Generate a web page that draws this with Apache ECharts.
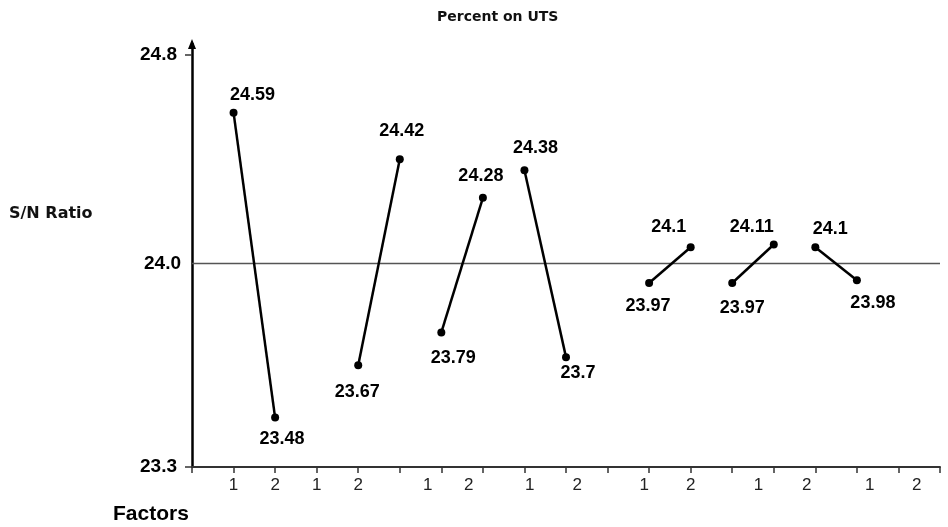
<!DOCTYPE html>
<html>
<head>
<meta charset="utf-8">
<script src="https://cdn.jsdelivr.net/npm/echarts@6/dist/echarts.min.js"></script>
<style>
  html, body { margin: 0; padding: 0; background: #fff; }
  #chart { width: 948px; height: 527px; }
</style>
</head>
<body>
<div id="chart"></div>
<script>
// S/N ratio of each factor at level 1 and level 2
const level1SN = [24.59, 23.67, 23.79, 24.38, 23.97, 23.97, 24.1];
const level2SN = [23.48, 24.42, 24.28, 23.7, 24.1, 24.11, 23.98];
// where the two levels of each factor sit along the x axis
const level1X = [1, 4, 6, 8, 11, 13, 15];
const level2X = [2, 5, 7, 9, 12, 14, 16];
// level labels printed under the x axis, and their axis positions
const levelTickLabels = ['1', '2', '1', '2', '1', '2', '1', '2', '1', '2', '1', '2', '1', '2'];
const levelTickPos = [1, 2, 3, 4, 5.67, 6.66, 8.13, 9.27, 10.88, 12, 13.63, 14.79, 16.31, 17.44];
// labelled values on the y axis
const yTickValues = [23.3, 24.8];

// nudges for the value labels, [level 1, level 2] per factor
const labelOffsets = [
  [[19, -18], [7, 21]],
  [[-1, 27], [2, -28]],
  [[12, 26], [-2, -22]],
  [[11, -22], [12, 16]],
  [[-1, 23], [-22, -20]],
  [[10, 25], [-22, -17]],
  [[15, -18], [16, 23]]
];

// overall mean of all S/N values, drawn as the reference line
const allSN = level1SN.concat(level2SN);
const meanSN = allSN.reduce((a, b) => a + b, 0) / allSN.length;

const ARIAL = '"Liberation Sans", Arial, sans-serif';
const VERDANA = '"DejaVu Sans", Verdana, sans-serif';

const chart = echarts.init(document.getElementById('chart'), null, { renderer: 'canvas' });

const series = level1SN.map((v1, i) => ({
  type: 'line',
  data: [
    { value: [level1X[i], v1], label: { offset: labelOffsets[i][0] } },
    { value: [level2X[i], level2SN[i]], label: { offset: labelOffsets[i][1] } }
  ],
  symbol: 'circle',
  symbolSize: 8,
  itemStyle: { color: '#000' },
  lineStyle: { color: '#000', width: 2.5 },
  label: {
    show: true,
    position: 'inside',
    align: 'center',
    verticalAlign: 'middle',
    formatter: p => String(p.value[1]),
    fontFamily: ARIAL,
    fontSize: 18,
    fontWeight: 'bold',
    color: '#000'
  },
  emphasis: { disabled: true },
  silent: true,
  z: 3
}));

series[0].markLine = {
  silent: true,
  symbol: 'none',
  data: [{ yAxis: meanSN }],
  lineStyle: { color: '#555', width: 1.3, type: 'solid' },
  label: {
    position: 'start',
    distance: 11,
    formatter: () => meanSN.toFixed(1),
    fontFamily: ARIAL,
    fontSize: 19,
    fontWeight: 'bold',
    color: '#000'
  },
  emphasis: { disabled: true },
  z: 1
};

function levelLabel(v) {
  for (let k = 0; k < levelTickPos.length; k++) {
    if (Math.abs(levelTickPos[k] - v) < 1e-6) return levelTickLabels[k];
  }
  return '';
}

chart.setOption({
  animation: false,
  backgroundColor: '#fff',
  grid: { left: 192, right: 8, top: 44, bottom: 60, containLabel: false },
  xAxis: {
    type: 'value',
    min: 0,
    max: 18,
    interval: 1,
    splitLine: { show: false },
    axisLine: { lineStyle: { color: '#333', width: 2 } },
    axisTick: { show: true, length: 6, lineStyle: { color: '#333', width: 1.5 } },
    axisLabel: {
      customValues: levelTickPos,
      formatter: levelLabel,
      margin: 10,
      fontFamily: ARIAL,
      fontSize: 17,
      color: '#222'
    }
  },
  yAxis: {
    type: 'value',
    min: 23.3,
    max: 24.84,
    splitLine: { show: false },
    axisLine: {
      show: true,
      symbol: ['none', 'triangle'],
      symbolSize: [8, 10],
      lineStyle: { color: '#000', width: 2.5 }
    },
    axisTick: {
      show: true,
      customValues: yTickValues,
      length: 7,
      lineStyle: { color: '#333', width: 1.5 }
    },
    axisLabel: {
      customValues: yTickValues,
      formatter: v => v.toFixed(1),
      margin: 15,
      fontFamily: ARIAL,
      fontSize: 19,
      fontWeight: 'bold',
      color: '#000'
    }
  },
  graphic: [
    {
      type: 'text', left: 499 - 62, top: 10,
      style: { text: 'Percent on UTS', font: 'bold 14px ' + VERDANA, fill: '#111' }
    },
    {
      type: 'text', left: 9, top: 206,
      style: { text: 'S/N Ratio', font: 'bold 16px ' + VERDANA, fill: '#111' }
    },
    {
      type: 'text', left: 113, top: 504,
      style: { text: 'Factors', font: 'bold 21px ' + ARIAL, fill: '#000' }
    }
  ],
  series: series
});
</script>
</body>
</html>
